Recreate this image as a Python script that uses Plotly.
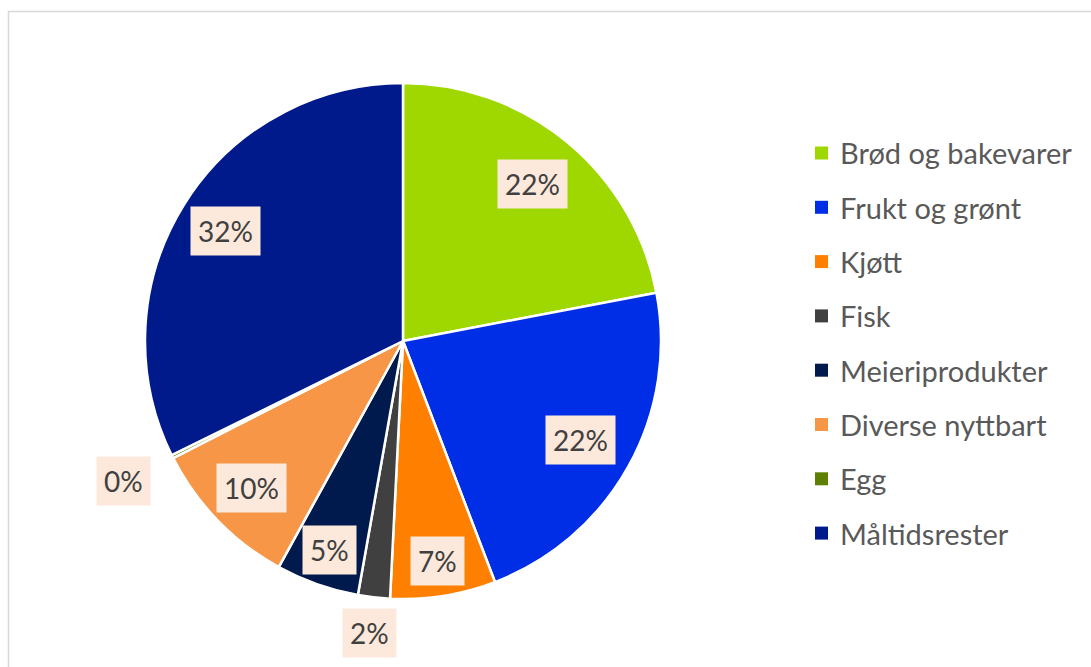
import math
import plotly.graph_objects as go

# Food waste by category (percent)
categories = ["Brød og bakevarer", "Frukt og grønt", "Kjøtt", "Fisk",
              "Meieriprodukter", "Diverse nyttbart", "Egg", "Måltidsrester"]
shares = [22.0, 22.2, 6.6, 2.0, 5.2, 9.5, 0.2, 32.3]
colors = ["#9FD800", "#002EE6", "#FF8000", "#404040",
          "#001A4D", "#F79646", "#5E8000", "#001A8C"]
# radial placement of each data label, as a fraction of the pie radius
label_radius = [0.79, 0.79, 0.865, 1.14, 0.86, 0.82, 1.21, 0.81]

W, H = 1091, 667
cx, cy, R = 403, 341, 258  # pie centre and radius in pixels

fig = go.Figure(go.Pie(
    labels=categories,
    values=shares,
    sort=False,
    direction="clockwise",
    rotation=0,
    marker=dict(colors=colors, line=dict(color="white", width=2.5)),
    textinfo="none",
    hoverinfo="label+percent",
    showlegend=False,
    domain=dict(x=[(cx - R) / W, (cx + R) / W], y=[1 - (cy + R) / H, 1 - (cy - R) / H]),
))

font_family = "Lato, Open Sans, sans-serif"
annotations = []
shapes = []

# data labels with a light peach box, placed at each slice's mid angle
total = sum(shares)
cum = 0.0
for v, rf in zip(shares, label_radius):
    mid = (cum + v / 2) / total * 2 * math.pi
    cum += v
    px = cx + rf * R * math.sin(mid)
    py = cy - rf * R * math.cos(mid)
    annotations.append(dict(
        x=px / W, y=1 - py / H, xref="paper", yref="paper",
        xanchor="center", yanchor="middle",
        text=f"{int(v / total * 100 + 0.5)}%", showarrow=False,
        font=dict(family=font_family, size=28, color="#404040"),
        bgcolor="#FCE9DB", borderpad=7,
    ))

# legend on the right
leg_top, leg_step = 153, 54.3
for i, (name, c) in enumerate(zip(categories, colors)):
    yy = leg_top + i * leg_step
    shapes.append(dict(type="rect", xref="paper", yref="paper",
                       x0=815 / W, x1=828 / W, y0=1 - (yy + 6.5) / H, y1=1 - (yy - 6.5) / H,
                       fillcolor=c, line=dict(width=0)))
    annotations.append(dict(
        x=838 / W, y=1 - yy / H, xref="paper", yref="paper",
        xanchor="left", yanchor="middle", text=name, showarrow=False,
        font=dict(family=font_family, size=29, color="#595959"),
    ))

# chart area outline
shapes.append(dict(type="rect", xref="paper", yref="paper",
                   x0=8.5 / W, x1=1.2, y0=-0.2, y1=1 - 11.5 / H,
                   line=dict(color="#D9D9D9", width=1.5), fillcolor="rgba(0,0,0,0)",
                   layer="below"))

fig.update_layout(
    width=W, height=H,
    margin=dict(l=0, r=0, t=0, b=0),
    paper_bgcolor="white", plot_bgcolor="white",
    annotations=annotations, shapes=shapes,
)

fig.write_html("out.html")
